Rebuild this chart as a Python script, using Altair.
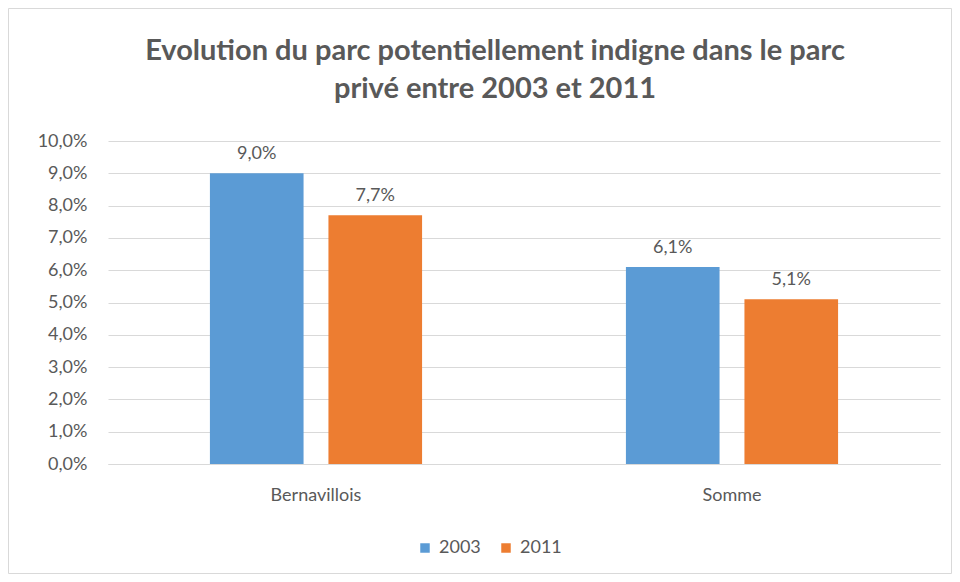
import altair as alt
import pandas as pd

regions = ["Bernavillois", "Somme"]
years = ["2003", "2011"]
values_2003 = [0.090, 0.061]
values_2011 = [0.077, 0.051]
y_ticks = [0.0, 0.01, 0.02, 0.03, 0.04, 0.05, 0.06, 0.07, 0.08, 0.09, 0.10]
colors = ["#5B9BD5", "#ED7D31"]
title_lines = ["Evolution du parc potentiellement indigne dans le parc",
               "privé entre 2003 et 2011"]

rows = []
for i, r in enumerate(regions):
    rows.append({"region": r, "year": "2003", "value": values_2003[i]})
    rows.append({"region": r, "year": "2011", "value": values_2011[i]})
df = pd.DataFrame(rows)

FONT = "Lato"
GREY = "#595959"
LBL = 18

x_enc = alt.X("region:N", sort=regions,
              scale=alt.Scale(paddingInner=0.49, paddingOuter=0.245),
              axis=alt.Axis(title=None, labelAngle=0, ticks=False, domain=True,
                            domainColor="#d9d9d9", labelPadding=22,
                            labelFontSize=LBL, labelColor=GREY, labelFont=FONT, grid=False))
xo_enc = alt.XOffset("year:N", sort=years, scale=alt.Scale(paddingInner=0.21, paddingOuter=0))
y_enc = alt.Y("value:Q", scale=alt.Scale(domain=[0, 0.1], nice=False),
              axis=alt.Axis(title=None, values=y_ticks, ticks=False, domain=False,
                            labelExpr="replace(format(datum.value, '.1%'), '.', ',')",
                            labelOverlap=False,
                            labelPadding=21, labelFontSize=LBL, labelColor=GREY,
                            labelFont=FONT, gridColor="#d9d9d9", gridWidth=1))

bars = alt.Chart(df).mark_bar().encode(
    x=x_enc, xOffset=xo_enc, y=y_enc,
    color=alt.Color("year:N", sort=years, scale=alt.Scale(domain=years, range=colors),
                    legend=alt.Legend(title=None, orient="none", legendX=308, legendY=398,
                                      direction="horizontal", symbolType="square",
                                      symbolSize=90, symbolStrokeWidth=0,
                                      labelFontSize=LBL, labelColor=GREY, labelFont=FONT,
                                      labelOffset=5, columnPadding=16)),
)

labels = alt.Chart(df).transform_calculate(
    label="replace(format(datum.value, '.1%'), '.', ',')"
).mark_text(dy=-14, baseline="alphabetic", fontSize=LBL, color=GREY, font=FONT).encode(
    x=x_enc, xOffset=xo_enc, y=y_enc, text="label:N",
)

border = alt.Chart(pd.DataFrame({"a": [0]})).mark_rect(
    fill=None, stroke="#d9d9d9", strokeWidth=1
).encode(x=alt.value(-99.5), x2=alt.value(843.5), y=alt.value(-132.5), y2=alt.value(432.5))

chart = alt.layer(border, bars, labels).properties(
    width=832, height=323,
    padding={"left": 100, "top": 133, "right": 12, "bottom": 110},
    autosize=alt.AutoSizeParams(type="none"),
    title=alt.TitleParams(text=title_lines, fontSize=29, lineHeight=38, font=FONT,
                          fontWeight="bold", color=GREY, anchor="middle", dx=-29, offset=-96),
).configure(background="white").configure_view(stroke=None)

chart.save("out.html", embed_options={"renderer": "svg", "actions": False})
